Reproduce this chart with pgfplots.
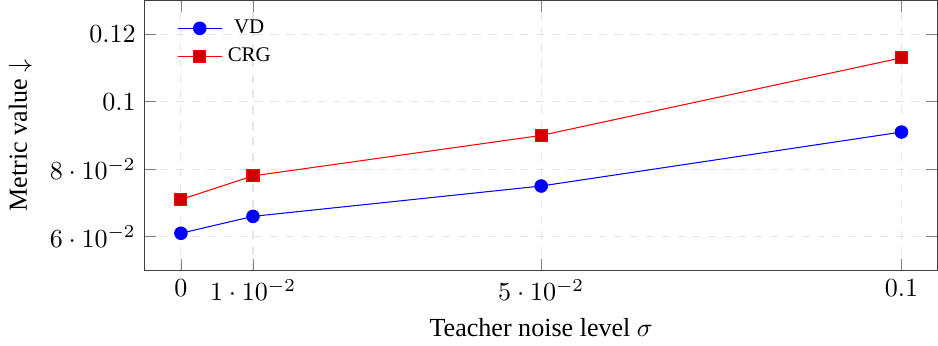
\documentclass[border=0pt]{standalone}
\usepackage{fontspec}
\setmainfont{Liberation Serif}
\usepackage{pgfplots}
\pgfplotsset{compat=1.18}

\begin{document}
\begin{tikzpicture}
\begin{axis}[
  scale only axis,
  width=304pt, height=103.5pt,
  xmin=-0.005, xmax=0.105,
  ymin=0.05, ymax=0.13,
  xtick={0,0.01,0.05,0.1},
  ytick={0.06,0.08,0.1,0.12},
  grid=major,
  major grid style={dashed, gray!20},
  axis line style={black!75},
  tick style={black!50},
  xlabel={Teacher noise level $\sigma$},
  ylabel={Metric value $\downarrow$},
  legend pos=north west,
  legend style={draw=none, fill=none, font=\footnotesize},
  legend cell align=center,
]
\addplot[blue, mark=*, mark size=2.4pt, mark options={fill=blue}]
  coordinates {(0,0.061) (0.01,0.066) (0.05,0.075) (0.1,0.091)};
\addlegendentry{VD}
\addplot[red, mark=square*, mark size=2.3pt, mark options={fill=red!80!black}]
  coordinates {(0,0.071) (0.01,0.078) (0.05,0.090) (0.1,0.113)};
\addlegendentry{CRG}
\end{axis}
\end{tikzpicture}
\end{document}
